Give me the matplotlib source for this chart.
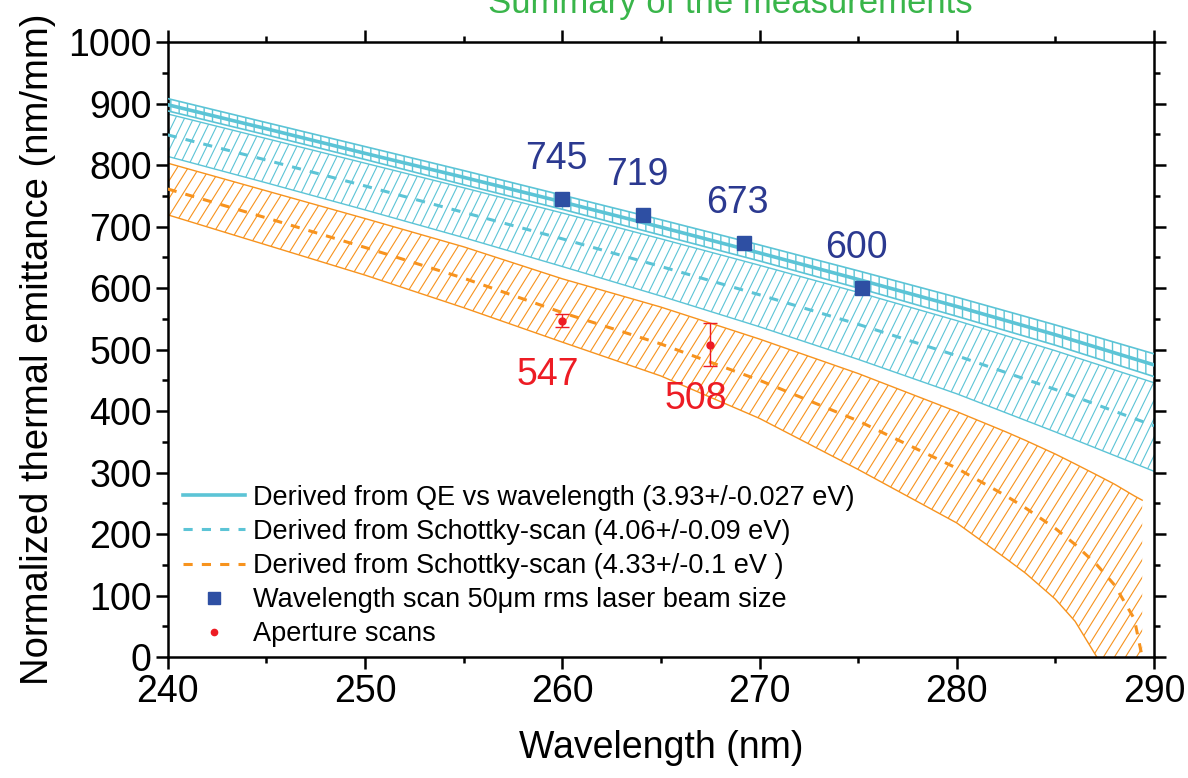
import numpy as np
import matplotlib
matplotlib.use('Agg')
from matplotlib import pyplot as plt
from matplotlib.collections import LineCollection
from matplotlib.lines import Line2D

plt.rcParams['font.family'] = ['Liberation Sans', 'DejaVu Sans']
plt.rcParams['hatch.linewidth'] = 1.0

# wavelength grid for the cyan curves (nm)
wl = [240, 245, 250, 255, 260, 265, 270, 275, 280, 285, 290]

# QE vs wavelength, 3.93 +/- 0.027 eV
qe_mid = [898, 859, 819, 780, 740, 699, 657, 614, 570, 524, 475]
qe_hi = [908, 869, 830, 791, 751, 711, 670, 628, 585, 540, 493]
qe_lo = [888, 849, 809, 768, 728, 686, 644, 600, 554, 507, 456]

# Schottky scan, 4.06 +/- 0.09 eV
sch_mid = [849, 808, 766, 723, 680, 635, 589, 541, 490, 435, 376]
sch_hi = [883, 843, 803, 763, 722, 680, 637, 593, 547, 498, 446]
sch_lo = [814, 771, 727, 682, 635, 587, 537, 484, 428, 366, 302]

# Schottky scan, 4.33 +/- 0.1 eV
wl_or = [240, 245, 250, 255, 260, 265, 270, 275, 280, 282.5, 283.5, 285, 286, 287.1, 288, 289, 289.4]
or_mid = [761, 714, 666, 616, 560, 509, 450, 384, 307, 262, 242, 209, 183, 150, 117, 62, 0]
or_hi = [803, 758, 713, 667, 615, 569, 517, 461, 399, 366, 352, 330, 314, 296, 281, 262, 255]
or_lo = [719, 670, 621, 568, 512, 457, 388, 305, 218, 160, 136, 94, 58, 0, 0, 0, 0]

# wavelength scan, 50 um rms laser spot
scan_wl = [260.0, 264.1, 269.2, 275.2]
scan_em = [745, 719, 673, 600]

# aperture scans
ap_wl = [260.0, 267.5]
ap_em = [547, 508]
ap_err = [10, 35]

cyan = '#5cc4d6'
orange = '#f7931e'
blue = '#2e4fa3'
navy = '#2b3990'
red = '#ed1c24'

fig = plt.figure(figsize=(11.88, 7.78), dpi=100)
ax = fig.add_axes([0.1412, 0.1555, 0.8302, 0.7905])
ax.set_xlim(240, 290)
ax.set_ylim(0, 1000)


def slanted_hatch(x, lo, hi, color, spacing=10, angle=62, lw=0.8, z=1):
    """fill_between region hatched with lines at a given angle (degrees)"""
    band = ax.fill_between(x, lo, hi, facecolor='none', edgecolor='none', zorder=z)
    bb = ax.get_window_extent()
    w, h = bb.width, bb.height
    run = (h / w) / np.tan(np.radians(angle))   # x shift (axes units) per unit height
    step = spacing / w
    starts = np.arange(-run, 1 + step, step)
    segs = [[(c, 0), (c + run, 1)] for c in starts]
    lc = LineCollection(segs, colors=color, linewidths=lw, transform=ax.transAxes, zorder=z)
    ax.add_collection(lc, autolim=False)
    lc.set_clip_path(band.get_paths()[0], band.get_transform())
    return band


# orange band
n_lo = or_lo.index(0) + 1
slanted_hatch(wl_or, or_lo, or_hi, orange, spacing=11, angle=58)
ax.plot(wl_or, or_hi, color=orange, lw=1.0, zorder=2)
ax.plot(wl_or[:n_lo], or_lo[:n_lo], color=orange, lw=1.0, zorder=2)
ax.plot(wl_or, or_mid, color=orange, lw=2.2, ls=(0, (3, 3)), zorder=3)

# cyan Schottky band
slanted_hatch(wl, sch_lo, sch_hi, cyan, spacing=9, angle=64)
ax.plot(wl, sch_hi, color=cyan, lw=1.0, zorder=2)
ax.plot(wl, sch_lo, color=cyan, lw=1.0, zorder=2)
ax.plot(wl, sch_mid, color=cyan, lw=2.2, ls=(0, (3, 3)), zorder=3)

# QE band
ax.fill_between(wl, qe_lo, qe_hi, facecolor='white', edgecolor=cyan,
                hatch='||', linewidth=0, zorder=2)
ax.plot(wl, qe_hi, color=cyan, lw=1.2, zorder=3)
ax.plot(wl, qe_lo, color=cyan, lw=1.2, zorder=3)
ax.plot(wl, qe_mid, color=cyan, lw=2.6, zorder=3)

# measurements
ax.plot(scan_wl, scan_em, 's', color=blue, ms=10, zorder=5)
ax.errorbar(ap_wl, ap_em, yerr=ap_err, fmt='o', color=red, ms=5,
            elinewidth=1.0, capsize=5, capthick=1.0, zorder=5)

for x, y in zip(scan_wl, scan_em):
    ax.annotate('%d' % y, xy=(x, y), xytext=(-6, 40), textcoords='offset pixels',
                ha='center', va='center', fontsize=27, color=navy, zorder=6)
for x, y in zip(ap_wl, ap_em):
    ax.annotate('%d' % y, xy=(x, y), xytext=(-14, -54), textcoords='offset pixels',
                ha='center', va='center', fontsize=27, color=red, zorder=6)

ax.set_xticks(np.arange(240, 291, 10))
ax.set_xticks(np.arange(245, 290, 10), minor=True)
ax.set_yticks(np.arange(0, 1001, 100))
ax.set_yticks(np.arange(50, 1000, 100), minor=True)
ax.tick_params(which='both', direction='out', width=1.8, labelsize=27,
               top=True, right=True, pad=3)
ax.tick_params(axis='x', pad=4)
ax.tick_params(which='major', length=8.5)
ax.tick_params(which='minor', length=4.5)
for s in ax.spines.values():
    s.set_linewidth(1.8)

ax.set_xlabel('Wavelength (nm)', fontsize=27, labelpad=14)
ax.set_ylabel('Normalized thermal emittance (nm/mm)', fontsize=27.5, labelpad=9)

fig.text(0.6145, 1 - 13 / 778, 'Summary of the measurements', color='#39b54a',
         fontsize=25, ha='center', va='baseline')

handles = [
    Line2D([], [], color=cyan, lw=2.6),
    Line2D([], [], color=cyan, lw=2.2, ls=(0, (3, 3))),
    Line2D([], [], color=orange, lw=2.2, ls=(0, (3, 3))),
    Line2D([], [], color=blue, marker='s', ls='none', ms=8),
    Line2D([], [], color=red, marker='o', ls='none', ms=4.5),
]
labels = [
    'Derived from QE vs wavelength (3.93+/-0.027 eV)',
    'Derived from Schottky-scan (4.06+/-0.09 eV)',
    'Derived from Schottky-scan (4.33+/-0.1 eV )',
    'Wavelength scan 50\u03bcm rms laser beam size',
    'Aperture scans',
]
ax.legend(handles, labels, loc='upper left', bbox_to_anchor=(0.0155, 0.280),
          frameon=False, fontsize=19.5, borderpad=0, borderaxespad=0,
          handlelength=2.3, handletextpad=0.3, labelspacing=0.3)

fig.savefig('out.png', dpi=100)
